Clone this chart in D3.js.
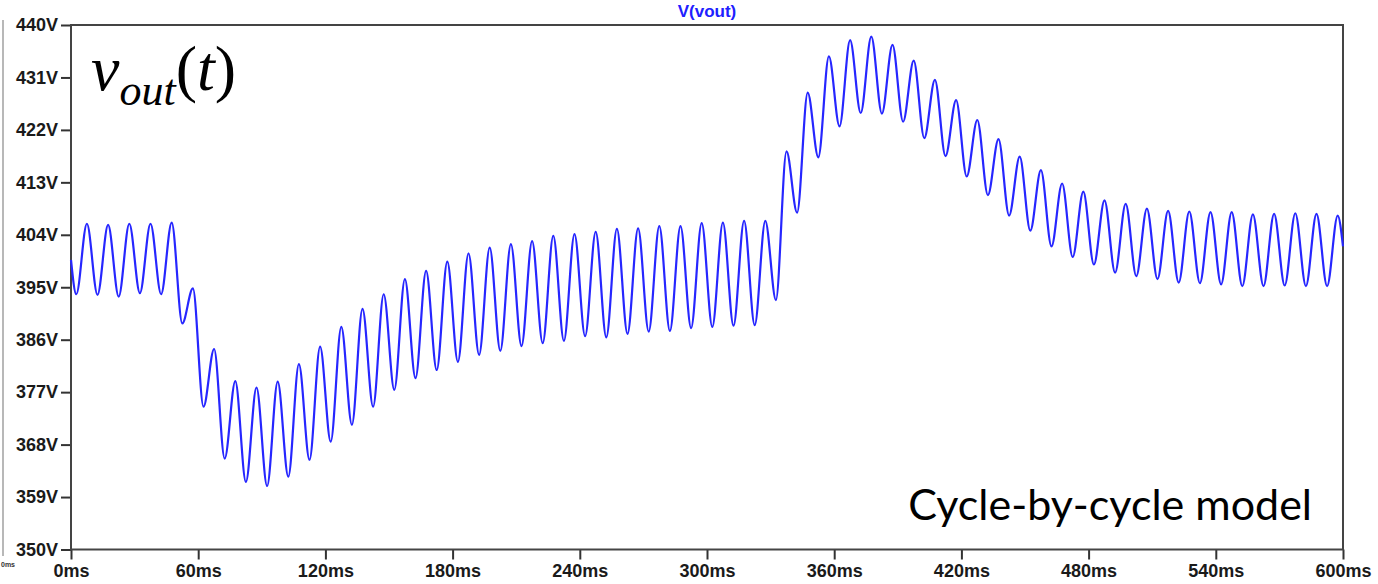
<!DOCTYPE html>
<html>
<head>
<meta charset="utf-8">
<script src="https://cdn.jsdelivr.net/npm/d3@7"></script>
<style>
  body { margin: 0; background: #fff; }
  svg { display: block; }
</style>
</head>
<body>
<svg width="1378" height="584"></svg>
<script>
// ripple extrema, one per 10ms cycle
let troughs = [393.8, 393.7, 393.4, 394.0, 393.8, 388.8, 374.5, 365.6, 361.6, 360.9,
               362.5, 365.4, 368.5, 371.4, 374.5, 377.4, 379.4, 380.8, 382.2, 383.4,
               384.1, 384.9, 385.4, 385.8, 386.6, 386.4, 387.0, 387.4, 387.5, 388.0,
               388.2, 388.4, 388.5, 392.8, 407.8, 417.3, 422.6, 424.9, 424.8, 423.4,
               420.6, 417.5, 414.0, 410.8, 407.3, 404.7, 402.0, 400.2, 398.9, 397.5,
               396.9, 396.4, 395.8, 395.7, 395.5, 395.2, 395.2, 395.3, 395.2, 395.2];
let peaks = [405.9, 405.7, 405.9, 405.9, 406.1, 394.8, 384.4, 378.9, 377.8, 378.8,
             381.8, 384.8, 388.2, 391.3, 393.8, 396.4, 397.8, 399.4, 400.8, 401.8,
             402.4, 402.9, 403.8, 404.1, 404.5, 405.0, 405.1, 405.5, 405.5, 406.0,
             406.1, 406.4, 406.4, 418.3, 428.4, 434.6, 437.4, 438.0, 436.6, 433.9,
             430.6, 427.1, 423.7, 420.4, 417.4, 415.1, 412.8, 411.4, 409.9, 409.3,
             408.5, 408.1, 408.0, 407.9, 407.9, 407.5, 407.6, 407.7, 407.6, 407.3];
let startValue = 399.7;
let endValue = 402.0;
let cycleMs = 10;

let yTicks = [350, 359, 368, 377, 386, 395, 404, 413, 422, 431, 440];
let xTicks = [0, 60, 120, 180, 240, 300, 360, 420, 480, 540, 600];
let traceName = "V(vout)";

let svg = d3.select("svg");
let plotLeft = 71, plotRight = 1343, plotTop = 25, plotBottom = 549.5;

let x = d3.scaleLinear().domain([0, 600]).range([plotLeft, plotRight]);
let y = d3.scaleLinear().domain([350, 440]).range([plotBottom, plotTop]);

// trough sits a quarter cycle in, peak three quarters in
let points = [[0, startValue]];
troughs.forEach((t, i) => {
  points.push([i * cycleMs + cycleMs / 4, t]);
  points.push([i * cycleMs + cycleMs * 3 / 4, peaks[i]]);
});
points.push([600, endValue]);

// left edge artefacts of the screenshot
svg.append("line")
  .attr("x1", 3).attr("x2", 3).attr("y1", 20).attr("y2", 556)
  .attr("stroke", "#a0a0a0").attr("stroke-width", 1.5);
svg.append("text")
  .attr("x", 1).attr("y", 567)
  .attr("font-family", "Liberation Sans, Arial, sans-serif")
  .attr("font-size", 7).attr("font-weight", "bold")
  .attr("fill", "#333")
  .text("0ms");

let yAxis = svg.append("g")
  .attr("transform", `translate(${plotLeft},0)`)
  .call(d3.axisLeft(y).tickValues(yTicks).tickSize(10).tickPadding(3).tickFormat(d => d + "V"));

let xAxis = svg.append("g")
  .attr("transform", `translate(0,${plotBottom})`)
  .call(d3.axisBottom(x).tickValues(xTicks).tickSize(10).tickPadding(5).tickFormat(d => d + "ms"));

[yAxis, xAxis].forEach(a => {
  a.select(".domain").remove();
  a.selectAll(".tick line").attr("stroke", "#333").attr("stroke-width", 2);
  a.selectAll(".tick text")
    .attr("font-family", "Liberation Sans, Arial, sans-serif")
    .attr("font-size", 18)
    .attr("font-weight", "bold")
    .attr("fill", "#1a1a1a");
});

svg.append("rect")
  .attr("x", plotLeft).attr("y", plotTop)
  .attr("width", plotRight - plotLeft).attr("height", plotBottom - plotTop)
  .attr("fill", "none")
  .attr("stroke", "#444").attr("stroke-width", 2);

svg.append("text")
  .attr("x", (plotLeft + plotRight) / 2).attr("y", 17)
  .attr("text-anchor", "middle")
  .attr("font-family", "Liberation Sans, Arial, sans-serif")
  .attr("font-size", 17).attr("font-weight", "bold")
  .attr("fill", "#2020ff")
  .text(traceName);

let line = d3.line()
  .x(d => x(d[0]))
  .y(d => y(d[1]))
  .curve(d3.curveMonotoneX);

svg.append("path")
  .datum(points)
  .attr("fill", "none")
  .attr("stroke", "#2626ff")
  .attr("stroke-width", 2.2)
  .attr("d", line);

// slide annotations
let label = svg.append("text")
  .attr("x", 91).attr("y", 90)
  .attr("font-family", "Liberation Serif, Times New Roman, serif")
  .attr("font-size", 64)
  .attr("fill", "#000");
label.append("tspan").attr("font-style", "italic").text("v");
label.append("tspan").attr("font-style", "italic").attr("font-size", 44).attr("dy", 15).text("out");
label.append("tspan").attr("dy", -15).text("(");
label.append("tspan").attr("font-style", "italic").text("t");
label.append("tspan").text(")");

svg.append("text")
  .attr("x", 1312).attr("y", 520)
  .attr("text-anchor", "end")
  .attr("font-family", "Lato, Open Sans, sans-serif")
  .attr("font-size", 43)
  .attr("fill", "#000")
  .text("Cycle-by-cycle model");
</script>
</body>
</html>
